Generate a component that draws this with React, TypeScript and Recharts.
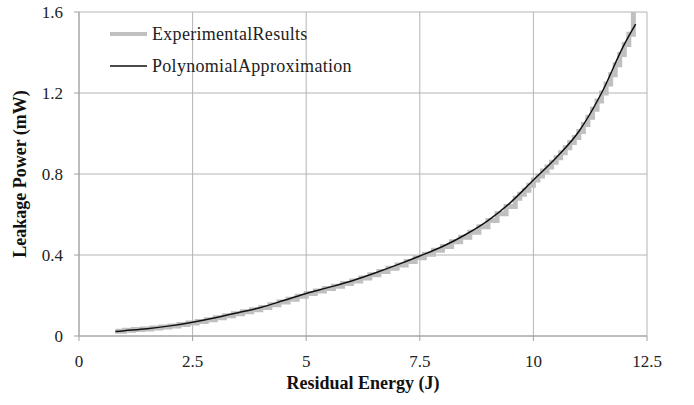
import React from "react";
import { ComposedChart, Line, XAxis, YAxis, CartesianGrid, Label } from "recharts";

const expEnergy = [0.8, 1.0, 1.2, 1.4, 1.6, 1.8, 2.0, 2.2, 2.4, 2.6, 2.8, 3.0, 3.2, 3.4, 3.6, 3.8, 4.0, 4.2, 4.4, 4.6, 4.8, 5.0, 5.2, 5.4, 5.6, 5.8, 6.0, 6.2, 6.4, 6.6, 6.8, 7.0, 7.2, 7.4, 7.6, 7.8, 8.0, 8.2, 8.4, 8.6, 8.8, 9.0, 9.2, 9.4, 9.6, 9.7, 9.8, 9.9, 10.0, 10.1, 10.2, 10.3, 10.4, 10.5, 10.6, 10.7, 10.8, 10.9, 11.0, 11.1, 11.2, 11.3, 11.4, 11.5, 11.6, 11.7, 11.8, 11.9, 12.0, 12.1, 12.2];
const expPower = [0.024, 0.028, 0.032, 0.035, 0.039, 0.044, 0.05, 0.057, 0.064, 0.072, 0.08, 0.09, 0.1, 0.11, 0.12, 0.13, 0.141, 0.154, 0.168, 0.182, 0.196, 0.21, 0.222, 0.234, 0.246, 0.259, 0.272, 0.287, 0.302, 0.318, 0.334, 0.351, 0.368, 0.386, 0.404, 0.423, 0.442, 0.465, 0.488, 0.512, 0.54, 0.57, 0.604, 0.64, 0.68, 0.7, 0.72, 0.745, 0.77, 0.79, 0.815, 0.835, 0.858, 0.88, 0.905, 0.93, 0.955, 0.98, 1.01, 1.045, 1.08, 1.12, 1.16, 1.2, 1.245, 1.29, 1.34, 1.39, 1.44, 1.49, 1.6];

const fitEnergy = [0.8, 1.0, 1.5, 2.0, 2.5, 3.0, 3.5, 4.0, 4.5, 5.0, 5.5, 6.0, 6.5, 7.0, 7.5, 8.0, 8.5, 9.0, 9.5, 10.0, 10.5, 11.0, 11.5, 12.0, 12.25];
const fitPower = [0.022, 0.026, 0.036, 0.05, 0.068, 0.09, 0.115, 0.141, 0.175, 0.21, 0.24, 0.272, 0.31, 0.351, 0.395, 0.442, 0.5, 0.57, 0.66, 0.77, 0.88, 1.01, 1.2, 1.44, 1.54];

const xTicks = [0, 2.5, 5, 7.5, 10, 12.5];
const yTicks = [0, 0.4, 0.8, 1.2, 1.6];
const seriesNames = ["ExperimentalResults", "PolynomialApproximation"];

const expData = expEnergy.map((x, i) => ({ x, y: expPower[i] }));
const fitData = fitEnergy.map((x, i) => ({ x, y: fitPower[i] }));

const FONT = "'Liberation Serif', 'Times New Roman', serif";

export default function App() {
  return (
    <div style={{ position: "absolute", left: 0, top: 0, width: 694, height: 405, background: "#fff" }}>
      <ComposedChart width={694} height={405} margin={{ top: 12, right: 47, bottom: 9, left: 29 }}>
        <CartesianGrid stroke="#b4b4b4" strokeWidth={1} />
        <XAxis
          type="number"
          dataKey="x"
          domain={[0, 12.5]}
          ticks={xTicks}
          allowDuplicatedCategory={false}
          stroke="#a0a0a0"
          tickSize={5}
          tickMargin={14}
          height={60}
          tick={{ fontFamily: FONT, fontSize: 17, fill: "#222" }}
        >
          <Label value="Residual Energy (J)" position="insideBottom" offset={7} style={{ fontFamily: FONT, fontSize: 18, fontWeight: "bold", fill: "#111" }} />
        </XAxis>
        <YAxis
          type="number"
          domain={[0, 1.6]}
          ticks={yTicks}
          stroke="#a0a0a0"
          tickSize={5}
          tickMargin={11}
          width={50}
          tick={{ fontFamily: FONT, fontSize: 17, fill: "#222" }}
        >
          <Label value="Leakage Power (mW)" angle={-90} position="insideLeft" offset={-9} style={{ fontFamily: FONT, fontSize: 18, fontWeight: "bold", fill: "#111", textAnchor: "middle" }} />
        </YAxis>
        <Line data={expData} dataKey="y" type="stepAfter" stroke="#c0c0c0" strokeWidth={5} dot={false} isAnimationActive={false} name={seriesNames[0]} />
        <Line data={fitData} dataKey="y" type="monotone" stroke="#111" strokeWidth={1.5} dot={false} isAnimationActive={false} name={seriesNames[1]} />
      </ComposedChart>
      <svg width={320} height={80} style={{ position: "absolute", left: 100, top: 16 }}>
        {seriesNames.map((n, i) => (
          <g key={n} transform={`translate(0, ${18 + i * 32})`}>
            <line x1={10} x2={47} y1={0} y2={0} stroke={i === 0 ? "#c0c0c0" : "#111"} strokeWidth={i === 0 ? 4 : 1.5} />
            <text x={52} y={6} fontFamily={FONT} fontSize={18} fill="#222" letterSpacing={0.3}>{n}</text>
          </g>
        ))}
      </svg>
    </div>
  );
}
